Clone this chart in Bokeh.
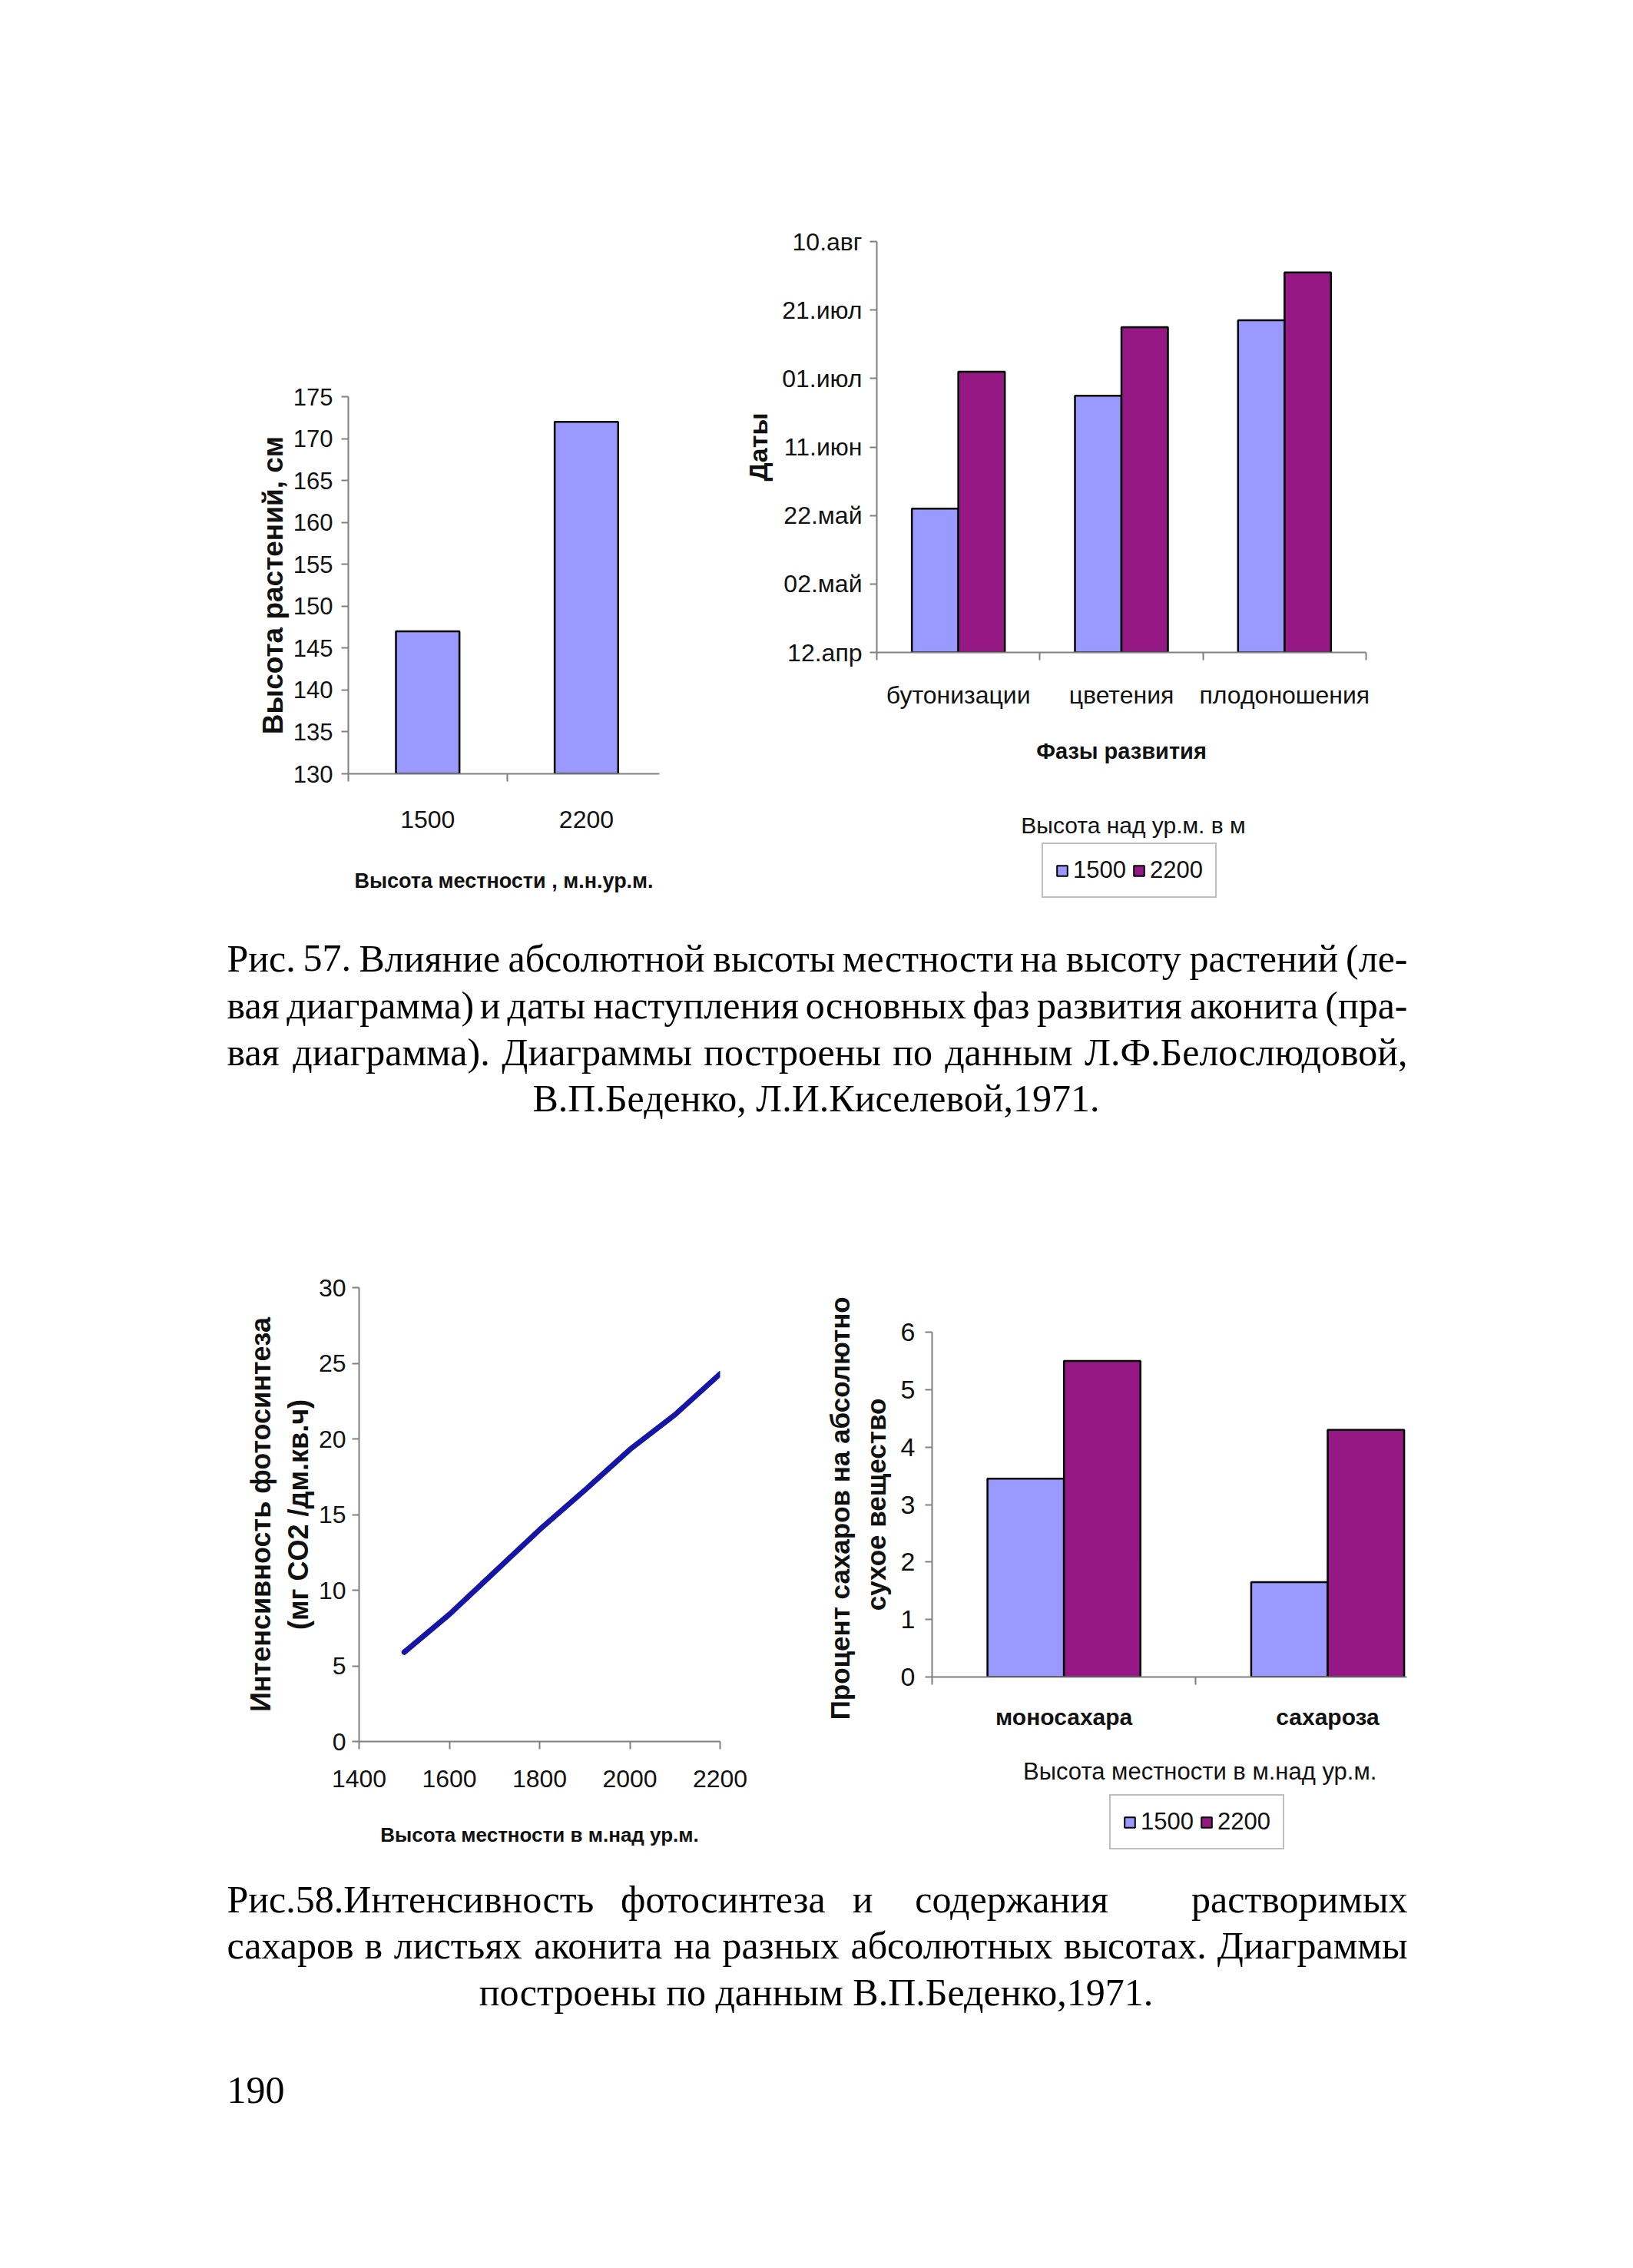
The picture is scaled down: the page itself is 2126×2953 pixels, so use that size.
import datetime as dt
import re
from bokeh.plotting import figure
from bokeh.models import Range1d, FixedTicker, Legend, LegendItem, Spacer, ColumnDataSource
from bokeh.layouts import column, row
from bokeh.embed import file_html
from bokeh.resources import INLINE
from bokeh.core.properties import value

# ---------------- data ----------------
height_cats = ["1500", "2200"]
height_vals = [147, 172]

phases = ["бутонизации", "цветения", "плодоношения"]
phase_1500 = ["05-24", "06-26", "07-18"]
phase_2200 = ["07-03", "07-16", "08-01"]
date_ticks = ["04-12", "05-02", "05-22", "06-11", "07-01", "07-21", "08-10"]
date_labels = ["12.апр", "02.май", "22.май", "11.июн", "01.июл", "21.июл", "10.авг"]

photo_alt = [1500, 1600, 1700, 1800, 1900, 2000, 2100, 2200]
photo_int = [5.9, 8.4, 11.2, 14.0, 16.6, 19.3, 21.6, 24.3]

sugar_cats = ["моносахара", "сахароза"]
sugar_1500 = [3.45, 1.65]
sugar_2200 = [5.5, 4.3]

series_names = ["1500", "2200"]

caption1 = [
    "Рис. 57. Влияние абсолютной высоты местности на высоту растений (ле-",
    "вая диаграмма) и даты наступления основных фаз развития аконита (пра-",
    "вая диаграмма). Диаграммы построены по данным Л.Ф.Белослюдовой,",
    "В.П.Беденко, Л.И.Киселевой,1971.",
]
caption2 = [
    "Рис.58.Интенсивность  фотосинтеза  и   содержания      растворимых",
    "сахаров в листьях аконита на разных абсолютных высотах. Диаграммы",
    "построены по данным В.П.Беденко,1971.",
]
page_number = "190"

# ---------------- styles ----------------
C1500 = "#9999FF"
C2200 = "#951884"
LINEC = "#1616A6"
AXC = "#808080"
SANS = "Liberation Sans"
SERIF = "Liberation Serif"
TXT = "#111111"
S = 1.01


def P(v):
    return int(round(v * S))


def doy(s):
    m, d = s.split("-")
    return dt.date(1971, int(m), int(d)).timetuple().tm_yday


def no_align(p):
    try:
        p.frame_align = False
    except Exception:
        pass


def base_fig(fig, frame, xr, yr):
    x0, y0, x1, y1 = [P(v) for v in fig]
    fl, ft, fr, fb = [P(v) for v in frame]
    p = figure(width=x1 - x0, height=y1 - y0, x_range=xr, y_range=yr,
               output_backend="svg", toolbar_location=None,
               min_border_left=fl - x0, min_border_top=ft - y0,
               min_border_right=x1 - fr, min_border_bottom=y1 - fb)
    no_align(p)
    p.outline_line_color = None
    p.grid.visible = False
    p.background_fill_color = "white"
    p.border_fill_color = "white"
    for ax in (p.xaxis[0], p.yaxis[0]):
        ax.axis_line_color = AXC
        ax.axis_line_width = 2
        ax.major_tick_line_color = AXC
        ax.major_tick_line_width = 2
        ax.minor_tick_line_color = AXC
        ax.minor_tick_line_width = 2
        ax.major_tick_in = 0
        ax.major_tick_out = 9
        ax.minor_tick_in = 0
        ax.minor_tick_out = 0
        ax.major_label_text_font = SANS
        ax.major_label_text_font_size = "32px"
        ax.major_label_text_color = TXT
        ax.axis_label_text_font = SANS
        ax.axis_label_text_font_style = "bold"
        ax.axis_label_text_color = TXT
    return p


def cat_axis(ax, n, labels):
    centers = [i + 0.5 for i in range(n)]
    ax.ticker = FixedTicker(ticks=centers, minor_ticks=[float(i) for i in range(n + 1)])
    ax.major_label_overrides = {c: l for c, l in zip(centers, labels)}
    ax.major_tick_out = 0
    ax.minor_tick_out = 10


def legend_fig(fig, title, title_xy, box_left, box_bottom, title_size, sources, width):
    x0, y0, x1, y1 = [P(v) for v in fig]
    p = figure(width=x1 - x0, height=y1 - y0, x_range=Range1d(x0, x1), y_range=Range1d(y1, y0),
               output_backend="svg", toolbar_location=None, x_axis_type=None, y_axis_type=None,
               min_border=0)
    no_align(p)
    p.outline_line_color = None
    p.grid.visible = False
    p.text(x=[P(title_xy[0])], y=[P(title_xy[1])], text=[title], text_align="center",
           text_baseline="middle", text_font=value(SANS), text_font_size=value(title_size),
           text_color=TXT)
    rs = []
    # hidden copies of the two series: they only provide the legend swatches
    for c, src in zip((C1500, C2200), sources):
        rs.append(p.vbar(x="x", top="top", bottom=0, width=width, source=src,
                         fill_color=c, line_color="black", line_width=2, visible=False))
    leg = Legend(items=[LegendItem(label=value(n), renderers=[r]) for n, r in zip(series_names, rs)],
                 orientation="horizontal", location=(P(box_left) - x0, y1 - P(box_bottom)),
                 border_line_color=AXC, border_line_width=2,
                 background_fill_color="white", background_fill_alpha=1.0,
                 label_text_font=SANS, label_text_font_size="31px", label_text_color=TXT,
                 glyph_width=17, glyph_height=17, label_standoff=6,
                 spacing=8, padding=16, margin=0, click_policy="none")
    p.add_layout(leg)
    return p


# ---------------- top-left: plant height ----------------
p1 = base_fig((330, 290, 880, 1180), (456, 519, 857, 1005), Range1d(0, 1.96), Range1d(130, 175))
src1 = ColumnDataSource(dict(x=[i + 0.5 for i in range(len(height_cats))], top=height_vals))
p1.vbar(x="x", top="top", bottom=130, width=0.4, source=src1,
        fill_color=C1500, line_color="black", line_width=2.5)
p1.yaxis.ticker = FixedTicker(ticks=list(range(130, 176, 5)))
p1.yaxis.major_label_text_font_size = "31px"
p1.yaxis.major_label_standoff = 11
p1.yaxis.axis_label = "Высота растений, см"
p1.yaxis.axis_label_text_font_size = "37px"
p1.yaxis.axis_label_standoff = 3
cat_axis(p1.xaxis[0], len(height_cats), height_cats)
p1.xaxis.major_label_standoff = 38
p1.xaxis.axis_label = "Высота местности , м.н.ур.м."
p1.xaxis.axis_label_text_font_size = "27px"
p1.xaxis.axis_label_standoff = 51

# ---------------- top-right: phase dates ----------------
d0, d1 = doy(date_ticks[0]), doy(date_ticks[-1])
p2 = base_fig((960, 290, 1800, 1045), (1138, 319, 1768, 849), Range1d(0, 3), Range1d(d0, d1))
off = 0.1425
src2a = ColumnDataSource(dict(x=[i + 0.5 - off for i in range(len(phases))],
                              top=[doy(s) for s in phase_1500]))
src2b = ColumnDataSource(dict(x=[i + 0.5 + off for i in range(len(phases))],
                              top=[doy(s) for s in phase_2200]))
p2.vbar(x="x", top="top", bottom=d0, width=2 * off, source=src2a,
        fill_color=C1500, line_color="black", line_width=2.5)
p2.vbar(x="x", top="top", bottom=d0, width=2 * off, source=src2b,
        fill_color=C2200, line_color="black", line_width=2.5)
tick_days = [doy(s) for s in date_ticks]
p2.yaxis.ticker = FixedTicker(ticks=tick_days)
p2.yaxis.major_label_overrides = {t: l for t, l in zip(tick_days, date_labels)}
p2.yaxis.major_label_standoff = 10
p2.yaxis.axis_label = "Даты"
p2.yaxis.axis_label_text_font_size = "34px"
p2.yaxis.axis_label_standoff = 9
cat_axis(p2.xaxis[0], len(phases), phases)
p2.xaxis.major_label_standoff = 27
p2.xaxis.axis_label = "Фазы развития"
p2.xaxis.axis_label_text_font_size = "29px"
p2.xaxis.axis_label_standoff = 36
leg2 = legend_fig((960, 1045, 1800, 1180), "Высота над ур.м. в м", (1468, 1071), 1350, 1165, "30px",
                  (src2a, src2b), 2 * off)

# ---------------- bottom-left: photosynthesis ----------------
p3 = base_fig((320, 1480, 1000, 2420), (463, 1667, 936, 2252), Range1d(1400, 2200), Range1d(0, 30))
p3.line(photo_alt, photo_int, line_color=LINEC, line_width=7, line_cap="round")
p3.xaxis.ticker = FixedTicker(ticks=list(range(1400, 2201, 200)))
p3.yaxis.ticker = FixedTicker(ticks=list(range(0, 31, 5)))
p3.xaxis.major_tick_out = 10
p3.xaxis.major_label_standoff = 27
p3.yaxis.major_label_standoff = 8
p3.yaxis.axis_label = "Интенсивность фотосинтеза\n(мг CO2 /дм.кв.ч)"
p3.yaxis.axis_label_text_font_size = "36px"
p3.yaxis.axis_label_standoff = 3
p3.xaxis.axis_label = "Высота местности в м.над ур.м."
p3.xaxis.axis_label_text_font_size = "26px"
p3.xaxis.axis_label_standoff = 44

# ---------------- bottom-right: sugars ----------------
p4 = base_fig((1060, 1480, 1850, 2270), (1209, 1725, 1821, 2169), Range1d(0, 1.8), Range1d(0, 6))
off4 = 0.145
src4a = ColumnDataSource(dict(x=[i + 0.5 - off4 for i in range(len(sugar_cats))], top=sugar_1500))
src4b = ColumnDataSource(dict(x=[i + 0.5 + off4 for i in range(len(sugar_cats))], top=sugar_2200))
p4.vbar(x="x", top="top", bottom=0, width=2 * off4, source=src4a,
        fill_color=C1500, line_color="black", line_width=2.5)
p4.vbar(x="x", top="top", bottom=0, width=2 * off4, source=src4b,
        fill_color=C2200, line_color="black", line_width=2.5)
p4.yaxis.ticker = FixedTicker(ticks=list(range(0, 7)))
p4.yaxis.major_label_text_font_size = "34px"
p4.yaxis.major_label_standoff = 13
p4.yaxis.axis_label = "Процент сахаров  на абсолютно\nсухое вещество"
p4.yaxis.axis_label_text_font_size = "35px"
p4.yaxis.axis_label_standoff = 10
cat_axis(p4.xaxis[0], len(sugar_cats), sugar_cats)
p4.xaxis.major_label_text_font_style = "bold"
p4.xaxis.major_label_text_font_size = "30px"
p4.xaxis.major_label_standoff = 25
leg4 = legend_fig((1060, 2270, 1850, 2420), "Высота местности в  м.над ур.м.", (1558, 2291),
                  1438, 2392, "31px", (src4a, src4b), 2 * off4)

# ---------------- captions ----------------
TW = {
    'а': .444, 'б': .5, 'в': .472, 'г': .41, 'д': .5, 'е': .444, 'ж': .722, 'з': .41, 'и': .535,
    'й': .535, 'к': .486, 'л': .5, 'м': .625, 'н': .535, 'о': .5, 'п': .535, 'р': .5, 'с': .444,
    'т': .437, 'у': .5, 'ф': .648, 'х': .5, 'ц': .535, 'ч': .5, 'ш': .774, 'щ': .774, 'ъ': .535,
    'ы': .687, 'ь': .472, 'э': .437, 'ю': .722, 'я': .486,
    'А': .722, 'Б': .574, 'В': .667, 'Г': .578, 'Д': .682, 'Е': .611, 'И': .722, 'К': .703,
    'Л': .666, 'М': .889, 'Н': .722, 'О': .722, 'П': .722, 'Р': .556, 'С': .667, 'Т': .611,
    'Ф': .79, '.': .25, ',': .25, ' ': .25, '(': .333, ')': .333, '-': .333,
}
CAP_FS = 50
CAP_L, CAP_R, CAP_C = P(294) + 6, P(1822), P(1059)


def tw(s):
    return sum(TW.get(ch, 0.5) for ch in s) * CAP_FS


def caption_fig(y0, y1, lines, ys, justify, extra=None):
    p = figure(width=2110, height=y1 - y0, x_range=Range1d(8, 2118), y_range=Range1d(y1, y0),
               output_backend="svg", toolbar_location=None, x_axis_type=None, y_axis_type=None,
               min_border=0)
    no_align(p)
    p.outline_line_color = None
    p.grid.visible = False
    groups = {"left": ([], [], []), "center": ([], [], []), "right": ([], [], [])}
    for line, y, j in zip(lines, ys, justify):
        if j:
            words = line.split()
            gaps_w = [len(g) for g in re.findall(r" +", line.strip())]
            widths = [tw(w) for w in words]
            unit = (CAP_R - CAP_L - sum(widths)) / sum(gaps_w)
            x = CAP_L
            for k, (w, wd) in enumerate(zip(words, widths)):
                if k == 0:
                    g, px = "left", CAP_L
                elif k == len(words) - 1:
                    g, px = "right", CAP_R
                else:
                    g, px = "center", x + wd / 2
                groups[g][0].append(px); groups[g][1].append(y); groups[g][2].append(w)
                if k < len(gaps_w):
                    x += wd + unit * gaps_w[k]
        else:
            groups["center"][0].append(CAP_C); groups["center"][1].append(y); groups["center"][2].append(line)
    if extra:
        for (px, y, t) in extra:
            groups["left"][0].append(px); groups["left"][1].append(y); groups["left"][2].append(t)
    for align, (xs, yys, ts) in groups.items():
        if xs:
            p.text(x=xs, y=yys, text=ts, text_align=align, text_baseline="middle",
                   text_font=value(SERIF), text_font_size=value(f"{CAP_FS}px"), text_color="black")
    return p


cap1 = caption_fig(P(1180), P(1480), caption1, [P(v) for v in (1243, 1303, 1363, 1423)],
                   [True, True, True, False])
cap2 = caption_fig(P(2420), 2940, caption2, [P(v) - 7 for v in (2462, 2522, 2582)],
                   [True, True, False], extra=[(P(294) + 6, P(2709) - 7, page_number)])

# ---------------- layout ----------------
H1 = P(1180) - P(290)
H2 = P(2420) - P(1480)
row1 = row(Spacer(width=P(330) - 8, height=H1), p1,
           Spacer(width=P(960) - P(880), height=H1), column(p2, leg2))
row2 = row(Spacer(width=P(320) - 8, height=H2), p3,
           Spacer(width=P(1060) - P(1000), height=H2), column(p4, leg4))
page = column(Spacer(width=2110, height=P(290) - 8), row1, cap1, row2, cap2)

open("out.html", "w").write(file_html(page, INLINE))
